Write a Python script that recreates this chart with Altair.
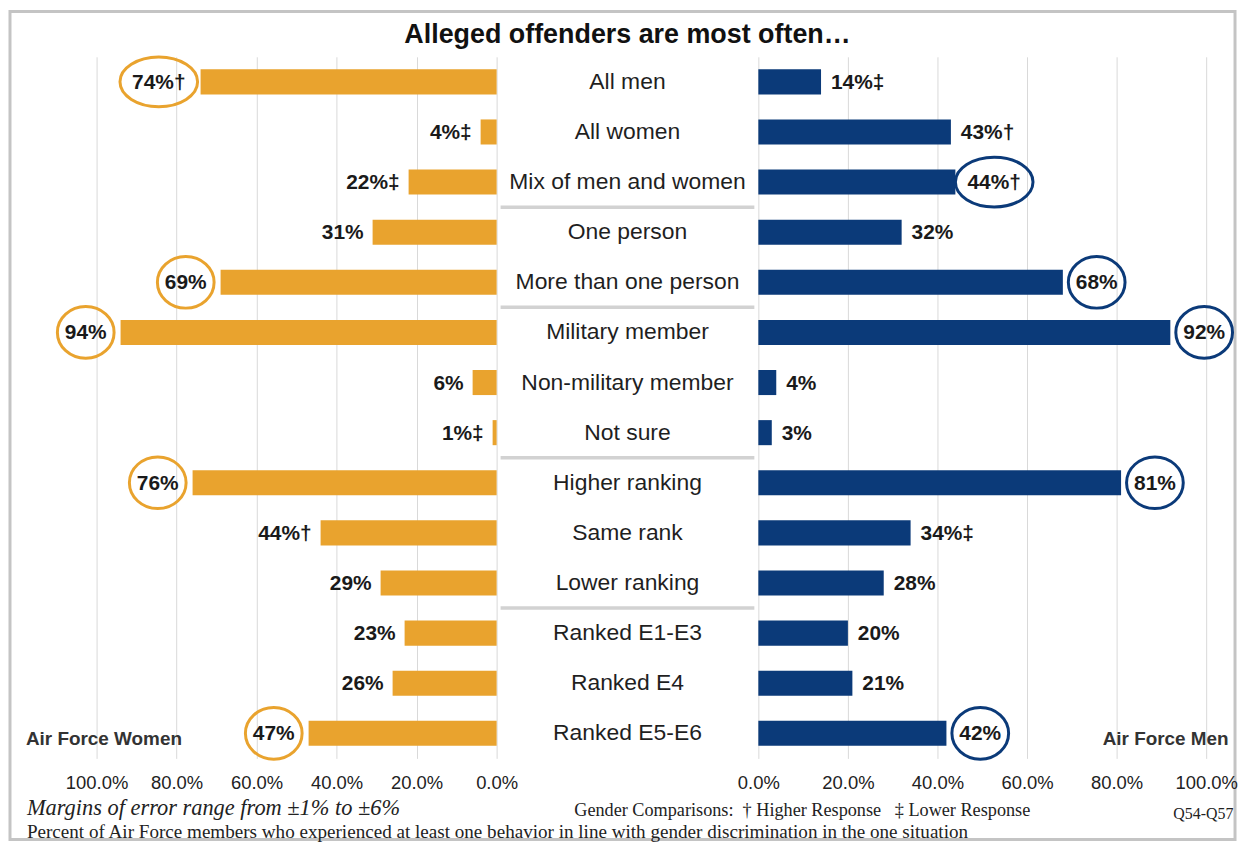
import altair as alt
import pandas as pd

categories = ["All men", "All women", "Mix of men and women", "One person",
              "More than one person", "Military member", "Non-military member",
              "Not sure", "Higher ranking", "Same rank", "Lower ranking",
              "Ranked E1-E3", "Ranked E4", "Ranked E5-E6"]
women_pct = [74, 4, 22, 31, 69, 94, 6, 1, 76, 44, 29, 23, 26, 47]
women_mark = ["†", "‡", "‡", "", "", "", "", "‡", "", "†", "", "", "", ""]
women_circled = [1, 0, 0, 0, 1, 1, 0, 0, 1, 0, 0, 0, 0, 1]
men_pct = [14, 43, 44, 32, 68, 92, 4, 3, 81, 34, 28, 20, 21, 42]
men_mark = ["‡", "†", "†", "", "", "", "", "", "", "‡", "", "", "", ""]
men_circled = [0, 0, 1, 0, 1, 1, 0, 0, 1, 0, 0, 0, 0, 1]
separator_before = ["One person", "Military member", "Higher ranking", "Ranked E1-E3"]
tick_values = [0, 20, 40, 60, 80, 100]

title_text = "Alleged offenders are most often…"
left_name = "Air Force Women"
right_name = "Air Force Men"
note_moe = "Margins of error range from ±1% to ±6%"
note_pct = ("Percent of Air Force members who experienced at least one behavior "
            "in line with gender discrimination in the one situation")
note_cmp = "Gender Comparisons:\u00a0 † Higher Response \u00a0 ‡ Lower Response"
note_q = "Q54-Q57"

ORANGE = "#E9A32E"
NAVY = "#0B3A79"
SANS = "Liberation Sans, Arial, Helvetica, sans-serif"
NARROW = "Liberation Sans Narrow, Arial Narrow, Liberation Sans, Arial, sans-serif"
SERIF = "Liberation Serif, Times New Roman, serif"

df = pd.DataFrame({
    "category": categories,
    "women": women_pct,
    "men": men_pct,
    "wlabel": [f"{v}%{m}" for v, m in zip(women_pct, women_mark)],
    "mlabel": [f"{v}%{m}" for v, m in zip(men_pct, men_mark)],
    "wc": women_circled,
    "mc": men_circled,
    "wwide": [1 if m else 0 for m in women_mark],
    "mwide": [1 if m else 0 for m in men_mark],
})

W_LEFT, W_CENTER, W_RIGHT, H = 402, 263, 450, 705
STEP = H / len(categories)

yenc = alt.Y("category:N", sort=categories,
             scale=alt.Scale(domain=categories, paddingInner=0.5, paddingOuter=0.25),
             axis=None)

def xaxis():
    return alt.Axis(values=tick_values, labelExpr="format(datum.value, '.1f') + '%'",
                    grid=True, gridColor="#d9d9d9", gridWidth=1, domain=False,
                    ticks=False, labelFontSize=18.5, labelPadding=15, labelColor="#222222",
                    labelFont=SANS, title=None, labelOverlap=False, labelFlush=False,
                    labelBound=False)

NARROW_PATH = "M -1 0 A 1 0.91 0 1 1 1 0 A 1 0.91 0 1 1 -1 0 Z"
WIDE_PATH = "M -1 0 A 1 0.64 0 1 1 1 0 A 1 0.64 0 1 1 -1 0 Z"

one = pd.DataFrame({"a": [0]})
VAL_FS = 21

# ---------- left panel (women) ----------
xl = alt.X("women:Q", scale=alt.Scale(domain=[0, 100], reverse=True), axis=xaxis())
base_l = alt.Chart(df)
bars_l = base_l.mark_bar(color=ORANGE).encode(x=xl, y=yenc)
lab_l = base_l.transform_filter("datum.wc == 0").mark_text(
    align="right", baseline="middle", dx=-9, dy=1, fontSize=VAL_FS, fontWeight="bold",
    font=NARROW, color="#1a1a1a").encode(x="women:Q", y=yenc, text="wlabel:N")
circ_l_n = base_l.transform_filter("datum.wc == 1 && datum.wwide == 0").mark_point(
    shape=NARROW_PATH, size=57 * 57, filled=False, color=ORANGE, strokeWidth=3,
    opacity=1, xOffset=-35).encode(x="women:Q", y=yenc)
circ_l_w = base_l.transform_filter("datum.wc == 1 && datum.wwide == 1").mark_point(
    shape=WIDE_PATH, size=78 * 78, filled=False, color=ORANGE, strokeWidth=3,
    opacity=1, xOffset=-42).encode(x="women:Q", y=yenc)
clab_l_n = base_l.transform_filter("datum.wc == 1 && datum.wwide == 0").mark_text(
    align="center", baseline="middle", dx=-35, dy=1, fontSize=VAL_FS, fontWeight="bold",
    font=NARROW, color="#1a1a1a").encode(x="women:Q", y=yenc, text="wlabel:N")
clab_l_w = base_l.transform_filter("datum.wc == 1 && datum.wwide == 1").mark_text(
    align="center", baseline="middle", dx=-42, dy=1, fontSize=VAL_FS, fontWeight="bold",
    font=NARROW, color="#1a1a1a").encode(x="women:Q", y=yenc, text="wlabel:N")

frame = alt.Chart(one).mark_rect(fill="transparent", stroke="#c4c4c4", strokeWidth=3).encode(
    x=alt.value(-87), x2=alt.value(1144), y=alt.value(-45.5), y2=alt.value(786.5))
name_l = alt.Chart(one).mark_text(text=left_name, align="left", baseline="alphabetic",
                                  fontSize=19, fontWeight="bold", font=SANS,
                                  color="#333333").encode(x=alt.value(-71), y=alt.value(692))
foot1 = alt.Chart(one).mark_text(text=note_moe, align="left", baseline="alphabetic",
                                 fontSize=22.5, fontStyle="italic", font=SERIF,
                                 color="#222222").encode(x=alt.value(-70), y=alt.value(762))
foot2 = alt.Chart(one).mark_text(text=note_pct, align="left", baseline="alphabetic",
                                 fontSize=19.2, font=SERIF,
                                 color="#222222").encode(x=alt.value(-70), y=alt.value(785))
foot3 = alt.Chart(one).mark_text(text=note_cmp, align="left", baseline="alphabetic",
                                 fontSize=18.3, font=SERIF,
                                 color="#222222").encode(x=alt.value(480), y=alt.value(763))
foot4 = alt.Chart(one).mark_text(text=note_q, align="left", baseline="alphabetic",
                                 fontSize=16, font=SERIF,
                                 color="#222222").encode(x=alt.value(1082), y=alt.value(766))

left = alt.layer(frame, bars_l, lab_l, circ_l_n, circ_l_w, clab_l_n, clab_l_w,
                 name_l, foot1, foot2, foot3, foot4).properties(width=W_LEFT, height=H)

# ---------- center panel ----------
cat_text = alt.Chart(df).mark_text(align="center", baseline="middle", fontSize=23,
                                   font=SANS, color="#1f1f1f").encode(
    x=alt.value(W_CENTER / 2), y=yenc, text="category:N")
sep_df = pd.DataFrame({"category": separator_before})
seps = alt.Chart(sep_df).mark_rule(color="#d2d2d2", strokeWidth=3.5, yOffset=-STEP / 2).encode(
    x=alt.value(4), x2=alt.value(W_CENTER - 4), y=yenc)
title = alt.Chart(one).mark_text(text=title_text, align="center", baseline="alphabetic",
                                 fontSize=27, fontWeight="bold", font=SANS,
                                 color="#111111").encode(x=alt.value(W_CENTER / 2), y=alt.value(-14))
center = alt.layer(seps, cat_text, title).properties(width=W_CENTER, height=H)

# ---------- right panel (men) ----------
xr = alt.X("men:Q", scale=alt.Scale(domain=[0, 100]), axis=xaxis())
base_r = alt.Chart(df)
bars_r = base_r.mark_bar(color=NAVY).encode(x=xr, y=yenc)
lab_r = base_r.transform_filter("datum.mc == 0").mark_text(
    align="left", baseline="middle", dx=10, dy=1, fontSize=VAL_FS, fontWeight="bold",
    font=NARROW, color="#1a1a1a").encode(x="men:Q", y=yenc, text="mlabel:N")
circ_r_n = base_r.transform_filter("datum.mc == 1 && datum.mwide == 0").mark_point(
    shape=NARROW_PATH, size=57 * 57, filled=False, color=NAVY, strokeWidth=3,
    opacity=1, xOffset=34).encode(x="men:Q", y=yenc)
circ_r_w = base_r.transform_filter("datum.mc == 1 && datum.mwide == 1").mark_point(
    shape=WIDE_PATH, size=78 * 78, filled=False, color=NAVY, strokeWidth=3,
    opacity=1, xOffset=39).encode(x="men:Q", y=yenc)
clab_r_n = base_r.transform_filter("datum.mc == 1 && datum.mwide == 0").mark_text(
    align="center", baseline="middle", dx=34, dy=1, fontSize=VAL_FS, fontWeight="bold",
    font=NARROW, color="#1a1a1a").encode(x="men:Q", y=yenc, text="mlabel:N")
clab_r_w = base_r.transform_filter("datum.mc == 1 && datum.mwide == 1").mark_text(
    align="center", baseline="middle", dx=39, dy=1, fontSize=VAL_FS, fontWeight="bold",
    font=NARROW, color="#1a1a1a").encode(x="men:Q", y=yenc, text="mlabel:N")
name_r = alt.Chart(one).mark_text(text=right_name, align="left", baseline="alphabetic",
                                  fontSize=19, fontWeight="bold", font=SANS,
                                  color="#333333").encode(x=alt.value(346), y=alt.value(692))
right = alt.layer(bars_r, lab_r, circ_r_n, circ_r_w, clab_r_n, clab_r_w, name_r).properties(
    width=W_RIGHT, height=H)

chart = alt.hconcat(left, center, right, spacing=0, bounds="flush").properties(
    padding=0, background="white"
).configure_view(stroke=None)

chart.save("out.html", embed_options={"renderer": "svg", "actions": False})
